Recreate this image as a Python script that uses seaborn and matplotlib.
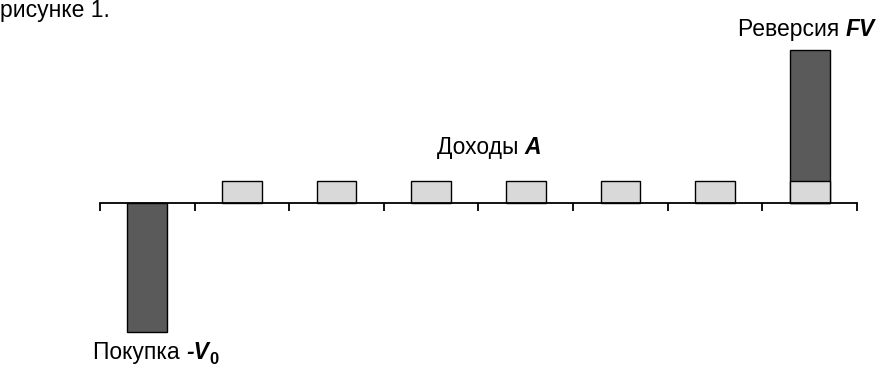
import matplotlib
matplotlib.use("Agg")
import matplotlib.pyplot as plt
import seaborn as sns
import pandas as pd

# cash flow periods: purchase, 7 incomes, reversion on top of last income
periods = [0, 1, 2, 3, 4, 5, 6, 7]
income = [0, 1, 1, 1, 1, 1, 1, 1]          # A
purchase = -5.86                            # -V0
reversion = 5.95                            # FV (stacked on last A)

sns.set_theme(style="white")
plt.rcParams['font.family'] = ['Liberation Sans', 'DejaVu Sans']
plt.rcParams['text.color'] = 'black'

dark = '#5a5a5a'
light = '#d9d9d9'

dark_vals = [purchase] + [0] * 6 + [income[-1] + reversion]
df_dark = pd.DataFrame({'period': periods, 'value': dark_vals})
df_light = pd.DataFrame({'period': periods, 'value': income})

fig = plt.figure(figsize=(8.78, 3.68), dpi=100)
ax = fig.add_axes([100 / 878, 0, 757 / 878, 1])

sns.barplot(data=df_dark, x='period', y='value', order=periods, color=dark,
            saturation=1, width=0.42, edgecolor='black', linewidth=1, ax=ax)
sns.barplot(data=df_light, x='period', y='value', order=periods,
            color=light, saturation=1, width=0.42, edgecolor='black', linewidth=1, ax=ax)
# hide empty bars
for p in ax.patches:
    if p.get_height() == 0:
        p.set_visible(False)

ax.set_xlim(-0.5, 7.5)
ax.set_ylim(-(368 - 203) / 22, 203 / 22)
for s in ['left', 'right', 'top']:
    ax.spines[s].set_visible(False)
ax.spines['bottom'].set_position(('data', 0))
ax.spines['bottom'].set_color('black')
ax.spines['bottom'].set_linewidth(1.3)
ax.set_xticks([i - 0.5 for i in range(9)])
ax.set_xticklabels([])
ax.tick_params(axis='x', direction='out', length=6, width=1.3, color='black', bottom=True)
ax.set_yticks([])
ax.set_xlabel('')
ax.set_ylabel('')
ax.patch.set_alpha(0)

fs = 16.5


def label(x, y, plain, bold, sub=None):
    t = fig.text(x / 878, 1 - y / 368, plain, fontsize=fs, ha='left', va='baseline')
    b = ax.annotate(bold, xy=(1, 0), xycoords=t, ha='left', va='bottom',
                    fontsize=fs, fontweight='bold', fontstyle='italic', annotation_clip=False)
    if sub:
        ax.annotate(sub, xy=(1, 0), xycoords=b, ha='left', va='bottom',
                    xytext=(0.5, -2.5), textcoords='offset points',
                    fontsize=fs * 0.72, fontweight='bold', annotation_clip=False)


fig.text(0, 1 - 17 / 368, 'рисунке 1.', fontsize=fs, ha='left', va='baseline')
label(738, 36, 'Реверсия ', 'FV')
label(437, 154, 'Доходы ', 'A')
label(93, 359, 'Покупка ', '-V', '0')

fig.savefig('out.png', dpi=100)
